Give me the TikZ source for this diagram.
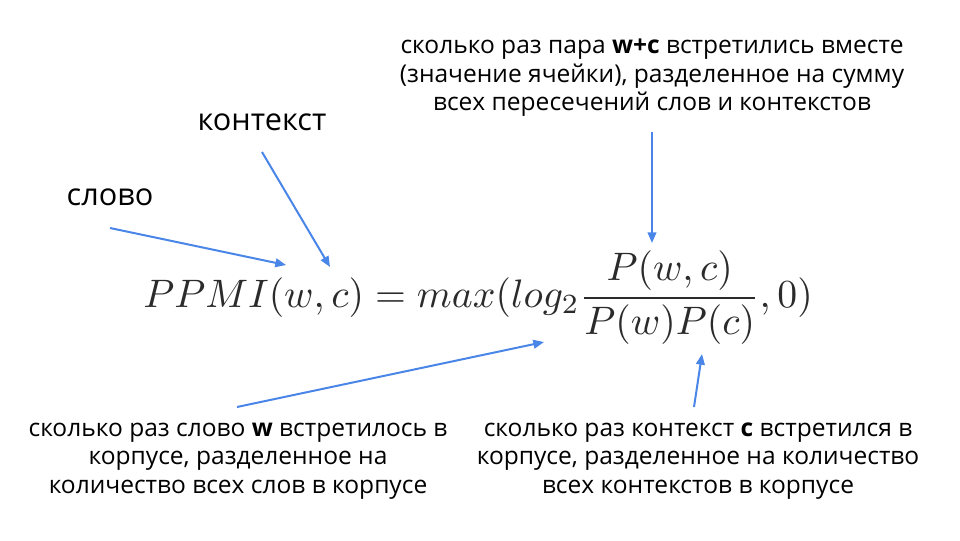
\documentclass[tikz,border=0pt]{standalone}
\usepackage[no-math]{fontspec}
\setmainfont{Open Sans}
\usetikzlibrary{arrows.meta}
\definecolor{arrowblue}{HTML}{4A86E8}
\definecolor{formulagray}{HTML}{2B2B2B}
\tikzset{
  pointer/.style={draw=arrowblue, line width=1.5pt, -{Triangle[length=8pt,width=6.5pt]}},
  label/.style={inner sep=0pt, font=\fontsize{23}{27}\selectfont},
  note/.style={inner sep=0pt, align=center, font=\fontsize{18.4}{21.4}\selectfont}
}
\begin{document}
\begin{tikzpicture}[x=0.75pt, y=-0.75pt]
                \useasboundingbox (0,0) rectangle (960,540);

                % Drawing formula
                \node [inner sep=0pt, text=formulagray] (ppmi) at (478,298)
                  {\resizebox{502pt}{!}{$\displaystyle PPMI(w,c) = max(log_2\frac{P(w,c)}{P(w)P(c)},0)$}};

                % Marking labels
                \node [label] (slovo) at (110,197) {слово};
                \node [label] (kontekst) at (262,122) {контекст};

                % Marking notes
                \node [note] (pair) at (652,78)
                  {сколько раз пара \textbf{w+c} встретились вместе\\
                   (значение ячейки), разделенное на сумму\\
                   всех пересечений слов и контекстов};
                \node [note] (wordnote) at (238,461)
                  {сколько раз слово \textbf{w} встретилось в\\
                   корпусе, разделенное на\\
                   количество всех слов в корпусе};
                \node [note] (contextnote) at (698,461)
                  {сколько раз контекст \textbf{c} встретился в\\
                   корпусе, разделенное на количество\\
                   всех контекстов в корпусе};

                % Arrow ends
                \coordinate (slovo-from) at (110,228);
                \coordinate (slovo-to) at (286,265);
                \coordinate (kontekst-from) at (262,152);
                \coordinate (kontekst-to) at (330,267);
                \coordinate (pair-from) at (652,132);
                \coordinate (pair-to) at (652,243);
                \coordinate (wordnote-from) at (237,407);
                \coordinate (wordnote-to) at (544,342);
                \coordinate (contextnote-from) at (694,407);
                \coordinate (contextnote-to) at (702,354);

                % Drawing arrows
                \draw [pointer] (slovo-from) -- (slovo-to);
                \draw [pointer] (kontekst-from) -- (kontekst-to);
                \draw [pointer] (pair-from) -- (pair-to);
                \draw [pointer] (wordnote-from) -- (wordnote-to);
                \draw [pointer] (contextnote-from) -- (contextnote-to);
\end{tikzpicture}
\end{document}
